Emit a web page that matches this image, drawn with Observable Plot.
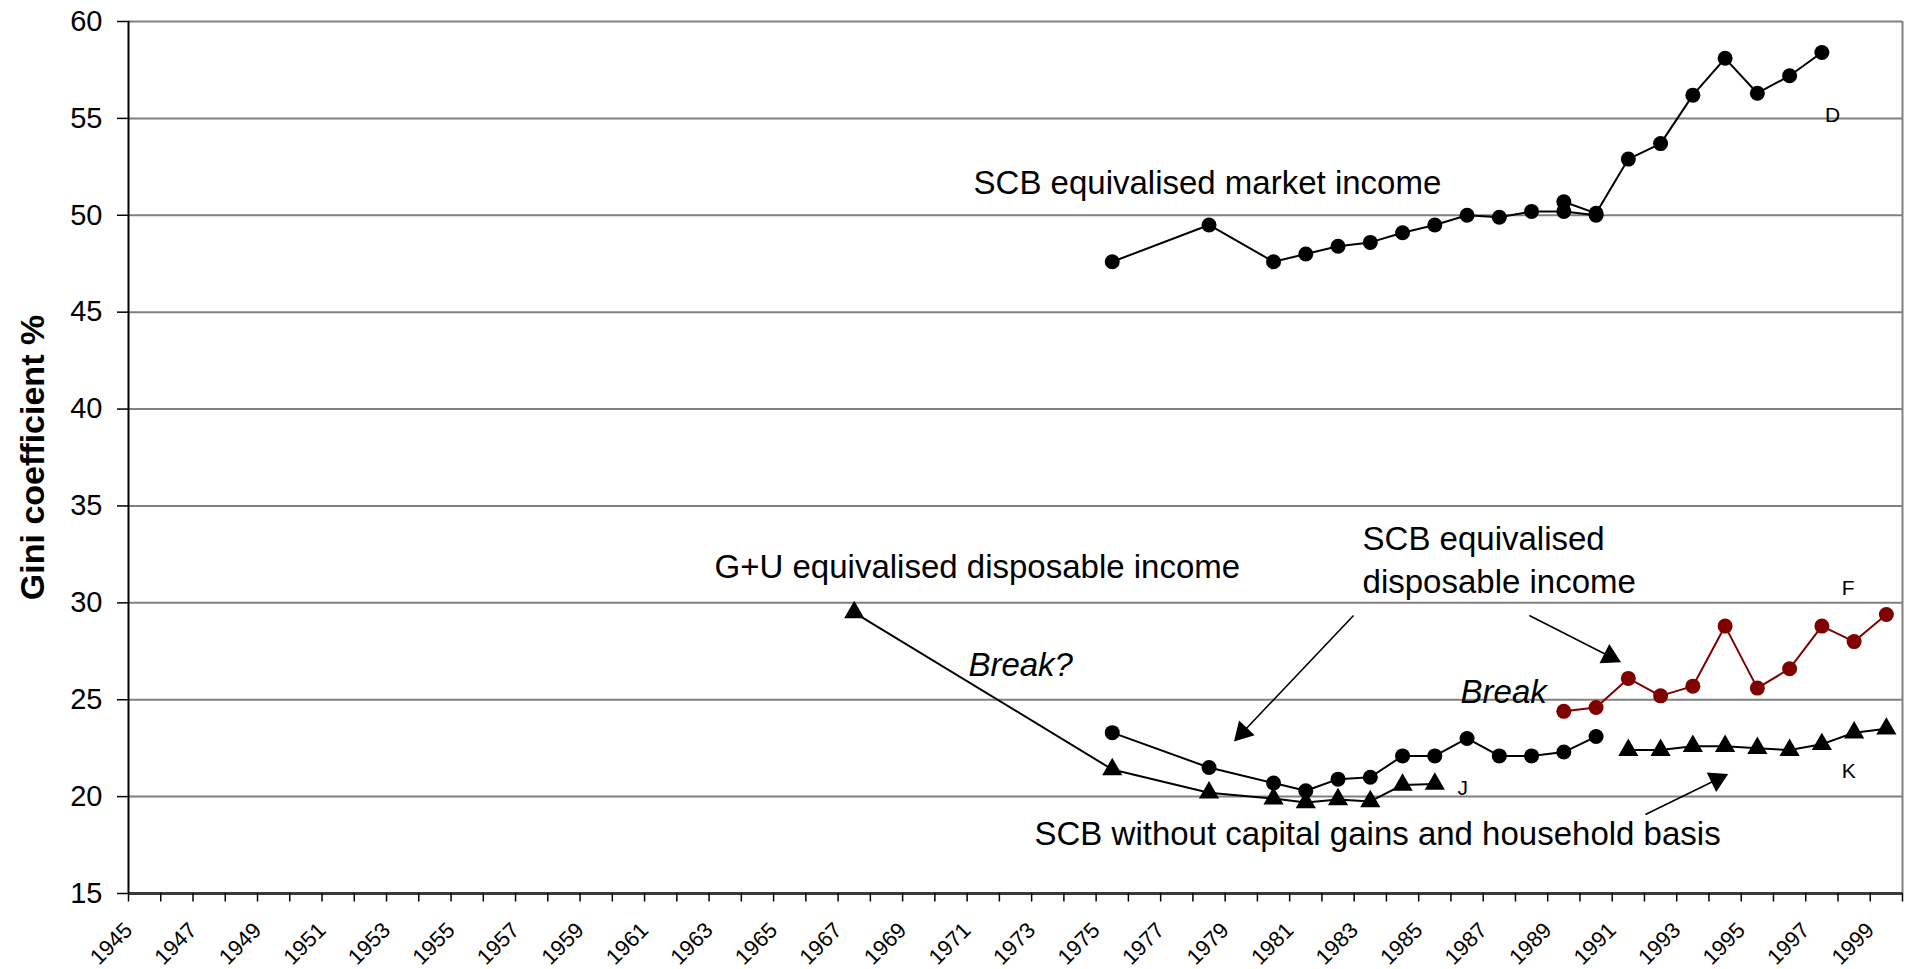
<!DOCTYPE html>
<html>
<head>
<meta charset="utf-8">
<script src="https://cdn.jsdelivr.net/npm/d3@7"></script>
<script src="https://cdn.jsdelivr.net/npm/@observablehq/plot@0.6"></script>
<style>
  html, body { margin: 0; padding: 0; background: #fff; overflow: hidden; }
  #chart svg { display: block; }
</style>
</head>
<body>
<div id="chart"></div>
<script>
// ---------- data ----------
const yTicks = [15, 20, 25, 30, 35, 40, 45, 50, 55, 60];
const tickYears = [1945,1946,1947,1948,1949,1950,1951,1952,1953,1954,1955,1956,1957,1958,1959,1960,1961,1962,1963,1964,1965,1966,1967,1968,1969,1970,1971,1972,1973,1974,1975,1976,1977,1978,1979,1980,1981,1982,1983,1984,1985,1986,1987,1988,1989,1990,1991,1992,1993,1994,1995,1996,1997,1998,1999,2000];
const labelYears = [1945,1947,1949,1951,1953,1955,1957,1959,1961,1963,1965,1967,1969,1971,1973,1975,1977,1979,1981,1983,1985,1987,1989,1991,1993,1995,1997,1999];

// SCB equivalised market income (two overlapping pieces)
const marketYearsA = [1975,1978,1980,1981,1982,1983,1984,1985,1986,1987,1988,1989,1990];
const marketValuesA = [47.6,49.5,47.6,48.0,48.4,48.6,49.1,49.5,50.0,49.9,50.2,50.2,50.0];
const marketYearsB = [1989,1990,1991,1992,1993,1994,1995,1996,1997];
const marketValuesB = [50.7,50.1,52.9,53.7,56.2,58.1,56.3,57.2,58.4];

// SCB equivalised disposable income (black dots, then red after break)
const dispYears = [1975,1978,1980,1981,1982,1983,1984,1985,1986,1987,1988,1989,1990];
const dispValues = [23.3,21.5,20.7,20.3,20.9,21.0,22.1,22.1,23.0,22.1,22.1,22.3,23.1];
const dispNewYears = [1989,1990,1991,1992,1993,1994,1995,1996,1997,1998,1999];
const dispNewValues = [24.4,24.6,26.1,25.2,25.7,28.8,25.6,26.6,28.8,28.0,29.4];

// G+U equivalised disposable income (triangles, "J")
const guYears = [1967,1975,1978,1980,1981,1982,1983,1984,1985];
const guValues = [29.5,21.4,20.2,19.9,19.7,19.85,19.75,20.6,20.65];

// SCB without capital gains, household basis (triangles, "K")
const kYears = [1991,1992,1993,1994,1995,1996,1997,1998,1999];
const kValues = [22.4,22.4,22.6,22.6,22.5,22.4,22.7,23.3,23.5];

// annotations (data units)
const noteTexts = ["SCB equivalised market income", "G+U equivalised disposable income", "SCB equivalised\ndisposable income", "SCB without capital gains and household basis"];
const noteX = [1971.2, 1963.17, 1983.26, 1973.09];
const noteY = [51.12, 31.26, 30.53, 17.48];

const breakTexts = ["Break?", "Break"];
const breakX = [1971.04, 1986.3];
const breakY = [26.25, 24.81];

const letterTexts = ["D", "F", "K", "J"];
const letterX = [1997.6, 1998.12, 1998.12, 1986.2];
const letterY = [54.79, 30.38, 20.94, 20.06];

const arrowX1 = [1982.98, 1988.43, 1992.03];
const arrowY1 = [29.35, 29.35, 19.08];
const arrowX2 = [1979.54, 1990.93, 1994.25];
const arrowY2 = [23.31, 27.23, 20.88];

// ---------- build tables ----------
const W = 1910, H = 969;
const M = {top: 21, right: 8, bottom: 76, left: 128};
const toRows = (ys, vs) => ys.map((y, i) => ({x: y + 0.5, y: vs[i]}));
const marketA = toRows(marketYearsA, marketValuesA);
const marketB = toRows(marketYearsB, marketValuesB);
const disp = toRows(dispYears, dispValues);
const dispNew = toRows(dispNewYears, dispNewValues);
const gu = toRows(guYears, guValues);
const kk = toRows(kYears, kValues);
const notes = noteTexts.map((t, i) => ({t, x: noteX[i], y: noteY[i]}));
const breaks = breakTexts.map((t, i) => ({t, x: breakX[i], y: breakY[i]}));
const letters = letterTexts.map((t, i) => ({t, x: letterX[i], y: letterY[i]}));
const kx = (W - M.left - M.right) / (2000 - 1945);
const ky = (H - M.top - M.bottom) / (60 - 15);
const arrows = arrowX1.map((x1, i) => {
  const x2 = arrowX2[i], y1 = arrowY1[i], y2 = arrowY2[i];
  const ang = Math.atan2((x2 - x1) * kx, (y2 - y1) * ky) * 180 / Math.PI;
  return {x1, y1, x2, y2, ang};
});

const RED = "#800000";
const font = "'Liberation Sans', Arial, Helvetica, sans-serif";

const chart = Plot.plot({
  width: W,
  height: H,
  marginTop: M.top,
  marginRight: M.right,
  marginBottom: M.bottom,
  marginLeft: M.left,
  x: {type: "linear", domain: [1945, 2000]},
  y: {type: "linear", domain: [15, 60]},
  style: {fontFamily: font, color: "#000", background: "#fff", overflow: "visible"},
  marks: [
    Plot.gridY(yTicks.filter(d => d > 15), {stroke: "#808080", strokeOpacity: 1, strokeWidth: 2}),
    Plot.ruleX([2000], {y1: 15, y2: 60, stroke: "#808080", strokeWidth: 2}),
    Plot.ruleY([15], {stroke: "#3a3a3a", strokeWidth: 3}),
    Plot.ruleX([1945], {y1: 15, y2: 60, stroke: "#000", strokeWidth: 2}),
    Plot.axisY({ticks: yTicks, tickSize: 11, tickPadding: 15, fontSize: 29, label: null, tickFormat: d => String(d), strokeWidth: 1.5}),
    Plot.axisX({ticks: tickYears, tickSize: 8.5, tickFormat: () => "", label: null, strokeWidth: 1.5}),
    Plot.text(labelYears, {x: d => d + 0.5, frameAnchor: "bottom", text: d => String(d), rotate: -45, textAnchor: "end", lineAnchor: "bottom", dx: -11, dy: 38, fontSize: 22}),
    Plot.text(["Gini coefficient %"], {frameAnchor: "left", rotate: -90, textAnchor: "middle", lineAnchor: "bottom", dx: -85, fontSize: 34, fontWeight: "bold"}),
    // series lines
    Plot.line(marketA, {x: "x", y: "y", stroke: "#000", strokeWidth: 2}),
    Plot.line(marketB, {x: "x", y: "y", stroke: "#000", strokeWidth: 2}),
    Plot.line(disp, {x: "x", y: "y", stroke: "#000", strokeWidth: 2}),
    Plot.line(dispNew, {x: "x", y: "y", stroke: RED, strokeWidth: 2}),
    Plot.line(gu, {x: "x", y: "y", stroke: "#000", strokeWidth: 2}),
    Plot.line(kk, {x: "x", y: "y", stroke: "#000", strokeWidth: 2}),
    // markers
    Plot.dot(marketA, {x: "x", y: "y", r: 7.5, fill: "#000", symbol: "circle"}),
    Plot.dot(marketB, {x: "x", y: "y", r: 7.5, fill: "#000", symbol: "circle"}),
    Plot.dot(disp, {x: "x", y: "y", r: 7.5, fill: "#000", symbol: "circle"}),
    Plot.dot(dispNew, {x: "x", y: "y", r: 7.5, fill: RED, symbol: "circle"}),
    Plot.dot(gu, {x: "x", y: "y", r: 7.5, fill: "#000", symbol: "triangle"}),
    Plot.dot(kk, {x: "x", y: "y", r: 7.5, fill: "#000", symbol: "triangle"}),
    // arrows
    Plot.link(arrows, {x1: "x1", y1: "y1", x2: "x2", y2: "y2", stroke: "#000", strokeWidth: 1.6}),
    Plot.dot(arrows, {x: "x2", y: "y2", symbol: "triangle", r: 8, fill: "#000", rotate: "ang"}),
    // annotations
    Plot.text(notes, {x: "x", y: "y", text: "t", textAnchor: "start", lineAnchor: "bottom", lineHeight: 1.28, fontSize: 33, fill: "#000"}),
    Plot.text(breaks, {x: "x", y: "y", text: "t", textAnchor: "start", lineAnchor: "bottom", fontSize: 33, fontStyle: "italic", fill: "#000"}),
    Plot.text(letters, {x: "x", y: "y", text: "t", textAnchor: "start", lineAnchor: "bottom", fontSize: 21, fill: "#000"})
  ]
});
document.getElementById("chart").appendChild(chart);
</script>
</body>
</html>
